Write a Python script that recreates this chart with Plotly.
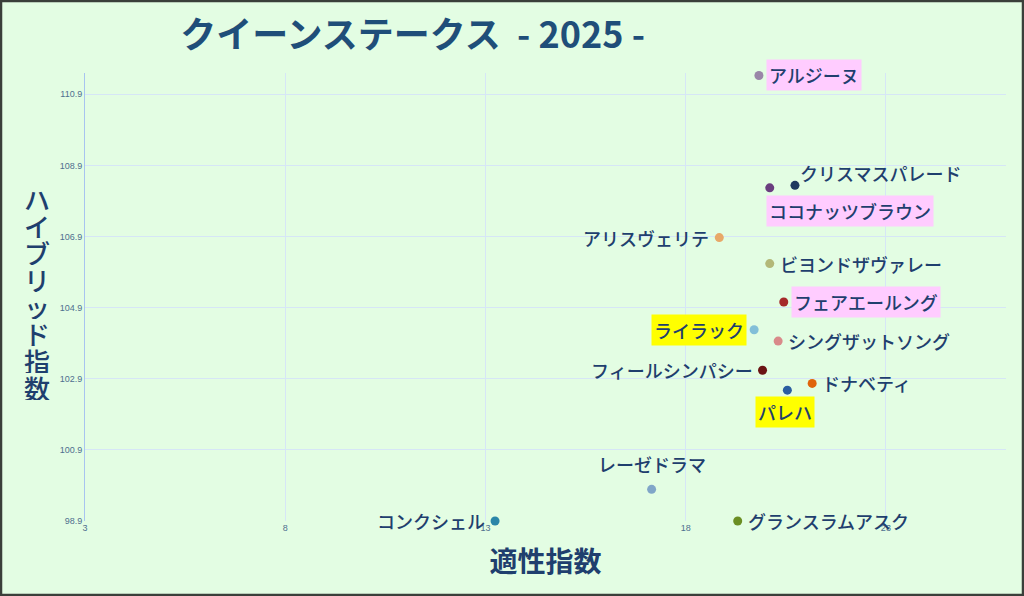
import plotly.graph_objects as go

# ---- data ----
horses = ["アルジーヌ", "クリスマスパレード", "ココナッツブラウン", "アリスヴェリテ",
          "ビヨンドザヴァレー", "フェアエールング", "ライラック", "シングザットソング",
          "フィールシンパシー", "ドナベティ", "パレハ", "レーゼドラマ",
          "グランスラムアスク", "コンクシェル"]
aptitude = [19.83, 20.73, 20.10, 18.84, 20.10, 20.45, 19.71, 20.31,
            19.92, 21.16, 20.54, 17.15, 19.30, 13.24]
hybrid = [111.43, 108.34, 108.27, 106.87, 106.14, 105.06, 104.28, 103.96,
          103.14, 102.77, 102.58, 99.79, 98.9, 98.9]
x_ticks = [3, 8, 13, 18, 23]
y_ticks = [98.9, 100.9, 102.9, 104.9, 106.9, 108.9, 110.9]

# ---- styles ----
dot_colors = ["#9a86a8", "#1f3a5f", "#6a3d7f", "#e8a868", "#b3b878", "#a52a2a",
              "#82bfd8", "#d98a8a", "#6b1414", "#e0640a", "#2a5ea0", "#80a6c8",
              "#6b8e23", "#2a86a8"]
label_pos = ["right", "aboveright", "belowright", "left", "right", "right", "left",
             "right", "left", "right", "below", "above", "right", "left"]
label_bg = ["#ffccff", None, "#ffccff", None, None, "#ffccff", "#ffff00",
            None, None, None, "#ffff00", None, None, None]

TXT = "#1f3f6e"
FONT = "Noto Sans CJK JP"

fig = go.Figure()
fig.add_trace(go.Scatter(
    x=aptitude, y=hybrid, mode="markers",
    marker=dict(size=9, color=dot_colors, line=dict(width=0)),
    cliponaxis=False, hoverinfo="skip", showlegend=False))

pos_map = {
    "right": dict(xanchor="left", yanchor="middle", xshift=7, yshift=0),
    "left": dict(xanchor="right", yanchor="middle", xshift=-7, yshift=0),
    "aboveright": dict(xanchor="left", yanchor="middle", xshift=2, yshift=12),
    "belowright": dict(xanchor="left", yanchor="top", xshift=-4, yshift=-7),
    "below": dict(xanchor="center", yanchor="top", xshift=-2, yshift=-6),
    "above": dict(xanchor="center", yanchor="bottom", xshift=0, yshift=9),
}

for name, xv, yv, p, bg in zip(horses, aptitude, hybrid, label_pos, label_bg):
    kw = pos_map[p]
    fig.add_annotation(
        x=xv, y=yv, xref="x", yref="y", text=name, showarrow=False,
        font=dict(family=FONT, size=18, color=TXT, weight=500),
        bgcolor=bg if bg else "rgba(0,0,0,0)", borderpad=2, **kw)

# y-axis title: stacked vertical characters
ytitle = "ハイブリッド指数"
n = len(ytitle)
for i, ch in enumerate(ytitle):
    fig.add_annotation(
        xref="paper", yref="paper", x=-48/921, y=0.5, xanchor="center", yanchor="middle",
        yshift=(n - 1) / 2 * 27 - i * 27 + 5, height=26, valign="middle",
        text=ch, showarrow=False,
        font=dict(family=FONT, size=26, color=TXT, weight=500))

fig.update_layout(
    width=1024, height=596,
    paper_bgcolor="#e3fde3", plot_bgcolor="#e3fde3",
    margin=dict(l=85, r=18, t=73, b=75),
    title=dict(text="クイーンステークス  - 2025 -", x=0.403, xanchor="center",
               y=0.94, yanchor="middle",
               font=dict(family=FONT, size=36, color="#1f4e79", weight="bold")),
    xaxis=dict(range=[3, 26], tickvals=x_ticks, showgrid=True,
               gridcolor="#d6e6f6", gridwidth=1, zeroline=False,
               showline=False, ticks="",
               tickfont=dict(family="Liberation Sans Narrow, Liberation Sans", size=9, color="#4f6f8f"),
               title=dict(text="適性指数", standoff=20,
                          font=dict(family=FONT, size=28, color=TXT, weight=600))),
    yaxis=dict(range=[98.9, 111.5], tickvals=y_ticks,
               ticktext=[f"{v:.1f}" for v in y_ticks], showgrid=True,
               gridcolor="#d6e6f6", gridwidth=1, zeroline=False,
               showline=True, linecolor="#a8c4f0", linewidth=1, ticks="",
               tickfont=dict(family="Liberation Sans Narrow, Liberation Sans", size=9, color="#4f6f8f")),
    shapes=[dict(type="rect", xref="paper", yref="paper",
                 x0=-84/921, x1=1 + 17/921, y0=-74/448, y1=1 + 72/448,
                 line=dict(color="#3a3f3a", width=2.5), fillcolor="rgba(0,0,0,0)")],
)

fig.write_html("out.html", config={"displayModeBar": False},
               post_script="document.body.style.margin='0';")
